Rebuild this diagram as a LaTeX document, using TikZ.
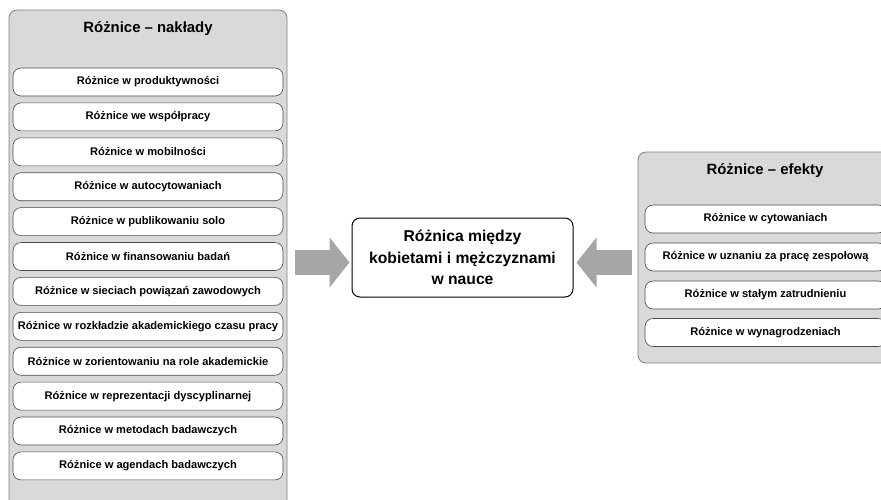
\documentclass[tikz,border=0pt]{standalone}
\usepackage{fontspec}
\setmainfont{Liberation Sans}
\usetikzlibrary{arrows.meta,calc}
\definecolor{panelfill}{HTML}{D9D9D9}
\definecolor{panelline}{HTML}{7F7F7F}
\definecolor{arrowgrey}{HTML}{A6A6A6}
\begin{document}
\begin{tikzpicture}[x=1pt,y=-1pt,
  panel/.style={draw=panelline, fill=panelfill, line width=0.8pt, rounded corners=8pt, inner sep=0pt},
  item/.style={draw=black!70, fill=white, line width=0.6pt, rounded corners=8pt, minimum height=28pt, inner sep=0pt, font=\bfseries\fontsize{11.1}{13}\selectfont},
  ptitle/.style={font=\bfseries\fontsize{14.9}{17}\selectfont, inner sep=0pt},
  center/.style={draw=black, fill=white, line width=1pt, rounded corners=8pt, minimum width=221pt, minimum height=79pt, align=center, inner sep=0pt, font=\bfseries\fontsize{15.7}{21.5}\selectfont},
  bigarrow/.style={draw=arrowgrey, line width=25pt, -{Triangle[length=20pt,width=49pt]}}
]
\useasboundingbox (0,0) rectangle (881,499);
\clip (0,0) rectangle (881,499);
% left panel
\node[panel, minimum width=278pt, minimum height=510pt] (L) at (148,265) {};
\node[ptitle] (Lt) at (148,29) {Różnice – nakłady};
\foreach \t [count=\i] in {
  Różnice w produktywności,
  Różnice we współpracy,
  Różnice w mobilności,
  Różnice w autocytowaniach,
  Różnice w publikowaniu solo,
  Różnice w finansowaniu badań,
  Różnice w sieciach powiązań zawodowych,
  Różnice w rozkładzie akademickiego czasu pracy,
  Różnice w zorientowaniu na role akademickie,
  Różnice w reprezentacji dyscyplinarnej,
  Różnice w metodach badawczych,
  Różnice w agendach badawczych}
  \node[item, minimum width=270pt] (l\i) at (148,{82+34.9*(\i-1)}) {\t};
% right panel
\node[panel, minimum width=255pt, minimum height=211pt] (R) at (765.5,257.5) {};
\node[ptitle] (Rt) at (765,171) {Różnice – efekty};
\node[item, minimum width=241pt] (r1) at (765.5,219) {Różnice w cytowaniach};
\node[item, minimum width=241pt] (r2) at (765.5,257) {Różnice w uznaniu za pracę zespołową};
\node[item, minimum width=241pt] (r3) at (765.5,295) {Różnice w stałym zatrudnieniu};
\node[item, minimum width=241pt] (r4) at (765.5,332.5) {Różnice w wynagrodzeniach};
% center
\node[center] (C) at (462.5,257.5) {Różnica między\\kobietami i mężczyznami\\w nauce};
% arrows
\draw[bigarrow] ($(L.east |- C.west)+(8,5)$) -- ($(C.west)+(-2,5)$);
\draw[bigarrow] ($(R.west |- C.east)+(-6,5)$) -- ($(C.east)+(3,5)$);
\end{tikzpicture}
\end{document}
